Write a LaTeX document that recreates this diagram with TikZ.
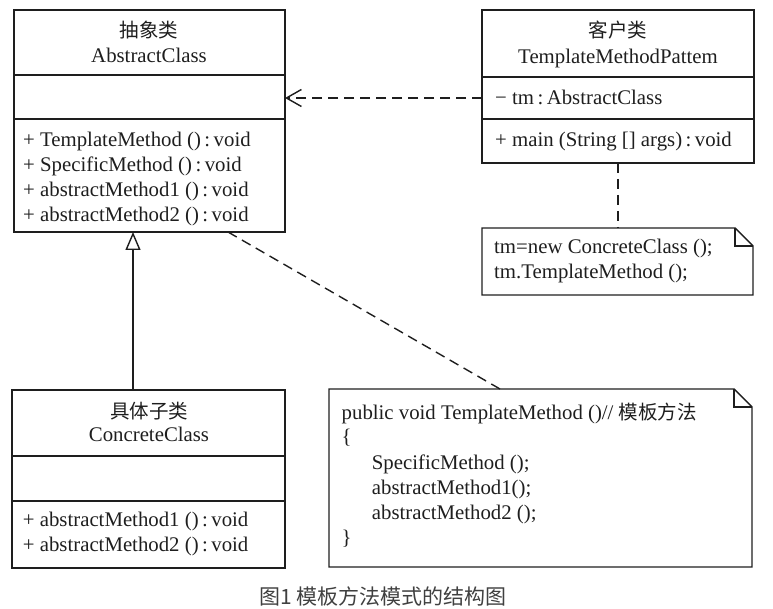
\documentclass[tikz,border=0pt]{standalone}
\usepackage{fontspec}
\setmainfont{Liberation Serif}
\newfontfamily\cjk{Noto Sans CJK SC}
\usetikzlibrary{arrows.meta}
\definecolor{ink}{HTML}{1E1E1E}
\definecolor{capgray}{HTML}{404040}
\begin{document}
\begin{tikzpicture}[x=1pt,y=-1pt,
  ln/.style={draw=ink, line width=1.4pt},
  box/.style={draw=ink, line width=1.4pt, anchor=north west, inner sep=0pt, outer sep=0pt},
  blank/.style={anchor=north west, inner sep=0pt, outer sep=0pt},
  txt/.style={anchor=base west, inner sep=0pt, text=ink, font=\fontsize{20.8}{25}\selectfont},
  ctxt/.style={anchor=base, inner sep=0pt, text=ink, font=\fontsize{20.8}{25}\selectfont},
  cn/.style={anchor=base, inner sep=0pt, text=ink, font=\cjk\fontsize{19.5}{25}\selectfont},
  dashline/.style={draw=ink, line width=1.4pt, dash pattern=on 10pt off 6pt},
  notefold/.style={draw=ink, line width=1.4pt, line join=miter}
]
\useasboundingbox (0,0) rectangle (773,609);

% ---------- AbstractClass ----------
\node[box, minimum width=271pt, minimum height=222pt] (abs) at (14,10) {};
\draw[ln] (14,75) -- (285,75);
\draw[ln] (14,119) -- (285,119);
\node[cn] (absCN) at (149,38) {抽象类};
\node[ctxt] (absName) at (149,62.7) {AbstractClass};
\node[txt] (absM1) at (23,146.7) {+ TemplateMethod ()\,:\,void};
\node[txt] (absM2) at (23,171.7) {+ SpecificMethod ()\,:\,void};
\node[txt] (absM3) at (23,196.7) {+ abstractMethod1 ()\,:\,void};
\node[txt] (absM4) at (23,221.7) {+ abstractMethod2 ()\,:\,void};

% ---------- Client ----------
\node[box, minimum width=272pt, minimum height=153pt] (client) at (482,10) {};
\draw[ln] (482,77) -- (754,77);
\draw[ln] (482,119) -- (754,119);
\node[cn] (cliCN) at (618,38) {客户类};
\node[ctxt] (cliName) at (618,63.3) {TemplateMethodPattem};
\node[txt] (cliA1) at (495,105) {− tm\,:\,AbstractClass};
\node[txt] (cliM1) at (495,146.7) {+ main (String [] args)\,:\,void};

% ---------- Note 1 ----------
\node[blank, minimum width=271pt, minimum height=67pt] (note1) at (482,228) {};
\draw[notefold] (note1.north west) -- ([xshift=-18pt]note1.north east) -- ([yshift=-18pt]note1.north east) -- (note1.south east) -- (note1.south west) -- cycle;
\draw[notefold] ([xshift=-18pt]note1.north east) -- ([xshift=-18pt,yshift=-18pt]note1.north east) -- ([yshift=-18pt]note1.north east);
\node[txt] (n1l1) at (494,253.3) {tm=new ConcreteClass ();};
\node[txt] (n1l2) at (494,278.3) {tm.TemplateMethod ();};

% ---------- ConcreteClass ----------
\node[box, minimum width=273pt, minimum height=178pt] (conc) at (12,390) {};
\draw[ln] (12,456) -- (285,456);
\draw[ln] (12,501) -- (285,501);
\node[cn] (concCN) at (149,418) {具体子类};
\node[ctxt] (concName) at (149,441.7) {ConcreteClass};
\node[txt] (concM1) at (22.7,526.7) {+ abstractMethod1 ()\,:\,void};
\node[txt] (concM2) at (22.7,551.7) {+ abstractMethod2 ()\,:\,void};

% ---------- Big note ----------
\node[blank, minimum width=423pt, minimum height=178pt] (note2) at (329,389) {};
\draw[notefold] (note2.north west) -- ([xshift=-18pt]note2.north east) -- ([yshift=-18pt]note2.north east) -- (note2.south east) -- (note2.south west) -- cycle;
\draw[notefold] ([xshift=-18pt]note2.north east) -- ([xshift=-18pt,yshift=-18pt]note2.north east) -- ([yshift=-18pt]note2.north east);
\node[txt] (n2l1) at (341.5,419.3) {public void TemplateMethod ()// {\cjk\fontsize{19.5}{25}\selectfont 模板方法}};
\node[txt] (n2l2) at (341.5,443.5) {\{};
\node[txt] (n2l3) at (371.7,469.3) {SpecificMethod ();};
\node[txt] (n2l4) at (371.7,494.3) {abstractMethod1();};
\node[txt] (n2l5) at (371.7,519.3) {abstractMethod2 ();};
\node[txt] (n2l6) at (341.5,544.3) {\}};

% ---------- Connectors ----------
\draw[dashline, -{Straight Barb[length=15pt, width=17pt, line width=1.4pt]}]
  (client.west |- 0,98) -- (abs.east |- 0,98);
\draw[ln, -{Triangle[open, length=18pt, width=15pt, line width=1.4pt]}]
  (conc.north -| 133,0) -- (abs.south -| 133,0);
\draw[dashline] (abs.south -| 228,0) -- (note2.north -| 500,0);
\draw[dashline] (client.south) -- (client.south |- note1.north);

% ---------- Caption ----------
\node[anchor=base, inner sep=0pt, text=capgray, font=\cjk\fontsize{21}{24}\selectfont] (caption) at (383,604) {图1\ 模板方法模式的结构图};
\end{tikzpicture}
\end{document}
